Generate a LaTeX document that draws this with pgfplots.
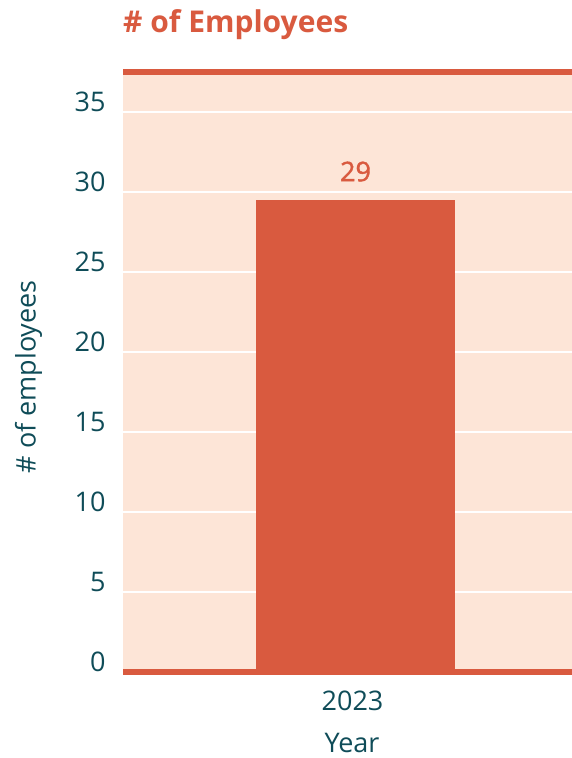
\documentclass[border=0pt]{standalone}
\usepackage{pgfplots}
\pgfplotsset{compat=1.18}
\usepackage{fontspec}
\setmainfont{Open Sans}
\newfontfamily\semib[FakeBold=1.5]{Open Sans}
\definecolor{barc}{HTML}{D95A3F}
\definecolor{bgc}{HTML}{FDE5D7}
\definecolor{txt}{HTML}{0F4C58}
\begin{document}
\begin{tikzpicture}[x=1pt,y=1pt]
\path[use as bounding box] (0,0) rectangle (572,758);
\node[anchor=base west, text=barc, font=\fontsize{30}{34}\selectfont\bfseries, inner sep=0] at (123,725) {\# of Employees};
\begin{axis}[
  at={(123pt,86pt)}, anchor=south west,
  width=449pt, height=600pt, scale only axis,
  xmin=-1, xmax=0.931, ymin=0, ymax=37.5,
  axis background/.style={fill=bgc},
  separate axis lines,
  y axis line style={draw=none},
  x axis line style={draw=barc, line width=5.7pt},
  major tick length=0pt,
  ytick={0,5,...,35},
  xtick={0}, xticklabels={2023},
  ymajorgrids,
  grid style={white, line width=2.5pt},
  /pgf/number format/assume math mode=true,
  tick label style={font=\fontsize{27}{32}\selectfont, text=txt},
  yticklabel style={anchor=east, xshift=-14pt, yshift=10pt},
  xticklabel style={yshift=-15pt, xshift=-3pt},
  xlabel={Year},
  ylabel={\# of employees},
  label style={font=\fontsize{27}{32}\selectfont, text=txt},
  xlabel style={at={(axis description cs:0.51,-0.135)}, anchor=base},
  ylabel style={at={(axis description cs:-0.2105,0.492)}, anchor=center, rotate=0},
  every axis y label/.append style={rotate=0},
]
\addplot[ybar, bar width=199pt, fill=barc, draw=none,
  point meta=explicit symbolic,
  nodes near coords,
  nodes near coords style={text=barc, font=\fontsize{27}{32}\selectfont\semib, yshift=15pt}]
  coordinates {(0,29.5) [29]};
\end{axis}
\end{tikzpicture}
\end{document}
